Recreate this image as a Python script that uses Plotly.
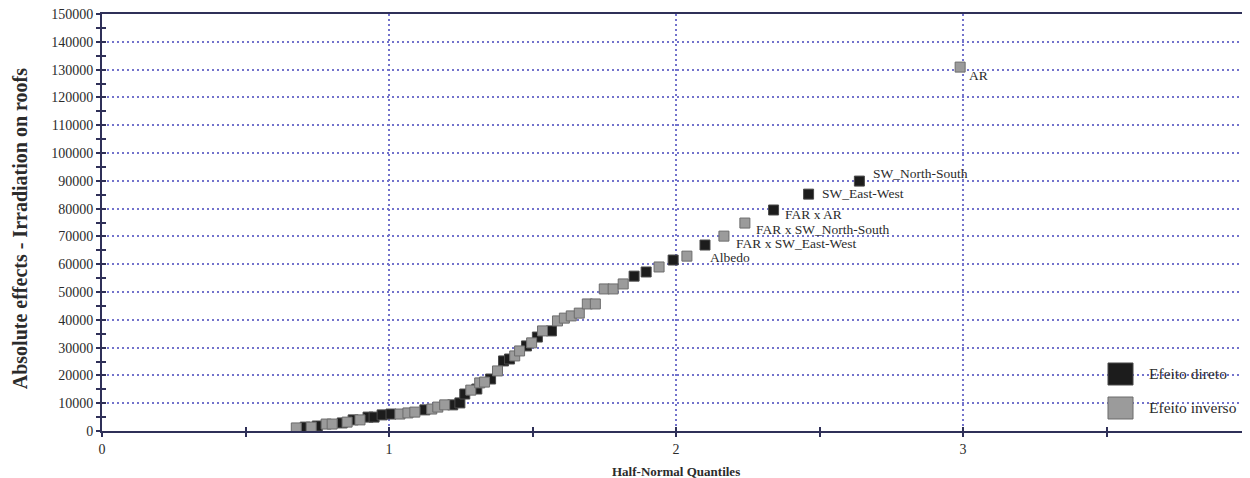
import plotly.graph_objects as go

# ---------------- data ----------------
direct_x = [0.708, 0.750, 0.837, 0.875, 0.927, 0.948, 0.976, 1.007, 1.125, 1.222,
            1.247, 1.264, 1.306, 1.354, 1.399, 1.420, 1.479, 1.517, 1.566, 1.854,
            1.896, 1.990, 2.101, 2.340, 2.462, 2.639]
direct_y = [1400, 1800, 2900, 4000, 5000, 5000, 5800, 6100, 7600, 9400,
            10100, 13300, 15100, 18700, 25200, 25900, 30600, 33800, 36000, 55700,
            57200, 61500, 66900, 79500, 85200, 89900]

inverse_x = [0.677, 0.729, 0.781, 0.802, 0.854, 0.899, 1.038, 1.066, 1.090, 1.149,
             1.170, 1.194, 1.285, 1.316, 1.333, 1.378, 1.438, 1.455, 1.497, 1.535,
             1.587, 1.611, 1.635, 1.663, 1.691, 1.719, 1.750, 1.781, 1.816, 1.941,
             2.038, 2.167, 2.240, 2.990]
inverse_y = [1100, 1400, 2500, 2500, 3200, 4000, 6100, 6500, 6800, 7900,
             8600, 9400, 14700, 17300, 17600, 21600, 27000, 28800, 31700, 36000,
             39600, 40600, 41400, 42400, 45700, 45700, 51100, 51100, 52900, 59000,
             62900, 70100, 74800, 130900]

label_names = ["AR", "SW_North-South", "SW_East-West", "FAR x AR",
               "FAR x SW_North-South", "FAR x SW_East-West", "Albedo"]
label_x = [2.990, 2.639, 2.462, 2.340, 2.240, 2.167, 2.038]
label_y = [130900, 89900, 85200, 79500, 74800, 70100, 62900]

x_tick_vals = [0, 1, 2, 3, 4]
x_tick_text = ["0", "1", "2", "3", "4"]
y_tick_vals = [0, 10000, 20000, 30000, 40000, 50000, 60000, 70000, 80000,
               90000, 100000, 110000, 120000, 130000, 140000, 150000]
y_tick_text = ["0", "10000", "20000", "30000", "40000", "50000", "60000", "70000",
               "80000", "90000", "100000", "110000", "120000", "130000", "140000", "150000"]

legend_names = ["Efeito direto", "Efeito inverso"]
x_title = "Half-Normal Quantiles"
y_title = "Absolute effects - Irradiation on roofs"

# ---------------- styles ----------------
FONT = "Liberation Serif, Times New Roman, serif"
TXT = "#2b2b2b"
AX = "#2f3058"
GRID = "#7373cc"
BLACK_FILL, BLACK_EDGE = "#1c1c1c", "#4a4a4a"
GRAY_FILL, GRAY_EDGE = "#9b9b9b", "#6c6c6c"
label_shift = [(7, -8), (12, 8), (11, 1), (9, -5), (9, -6), (10, -7), (21, -1)]

fig = go.Figure()
fig.add_trace(go.Scatter(
    x=direct_x, y=direct_y, mode="markers", name=legend_names[0], showlegend=False,
    marker=dict(symbol="square", size=10, color=BLACK_FILL,
                line=dict(color=BLACK_EDGE, width=1))))
fig.add_trace(go.Scatter(
    x=inverse_x, y=inverse_y, mode="markers", name=legend_names[1], showlegend=False,
    marker=dict(symbol="square", size=10, color=GRAY_FILL,
                line=dict(color=GRAY_EDGE, width=1))))
# helper trace on overlay axes (inside half of the crossing ticks)
fig.add_trace(go.Scatter(x=[None], y=[None], xaxis="x2", yaxis="y2",
                         showlegend=False, hoverinfo="skip"))

for name, lx, ly, (dx, dy) in zip(label_names, label_x, label_y, label_shift):
    fig.add_annotation(x=lx, y=ly, text=name, showarrow=False, xanchor="left",
                       yanchor="middle", xshift=dx, yshift=dy,
                       font=dict(family=FONT, size=13.5, color=TXT))

tickfont = dict(family=FONT, size=14, color=TXT)
# the page body adds an 8px offset, so the figure is 8px smaller on each side
fig.update_layout(
    width=1242, height=470,
    margin=dict(l=94, r=0, t=6, b=47, autoexpand=False),
    paper_bgcolor="white", plot_bgcolor="white",
    showlegend=False,
    xaxis=dict(range=[0, 4], tickvals=x_tick_vals, ticktext=x_tick_text,
               showline=True, linecolor=AX, linewidth=2, mirror=True,
               ticks="outside", ticklen=4, tickwidth=1.5, tickcolor=AX,
               showgrid=True, gridcolor=GRID, gridwidth=1.5, griddash="2px,3px",
               zeroline=False, tickfont=tickfont, fixedrange=True, automargin=False,
               ticklabeloverflow="allow",
               minor=dict(dtick=0.5, tick0=0, ticks="outside", ticklen=4,
                          tickwidth=1.5, tickcolor=AX, showgrid=False)),
    yaxis=dict(range=[0, 150000], tickvals=y_tick_vals, ticktext=y_tick_text,
               showline=True, linecolor=AX, linewidth=2,
               ticks="outside", ticklen=4, tickwidth=1.5, tickcolor=AX,
               showgrid=True, gridcolor=GRID, gridwidth=1.5, griddash="2px,3px",
               zeroline=False, tickfont=tickfont, fixedrange=True, automargin=False,
               ticklabeloverflow="allow",
               minor=dict(dtick=5000, tick0=0, ticks="outside", ticklen=4,
                          tickwidth=1.5, tickcolor=AX, showgrid=False)),
    xaxis2=dict(range=[0, 4], overlaying="x", anchor="y2", side="bottom",
                tickvals=x_tick_vals, showticklabels=False, showgrid=False,
                showline=False, zeroline=False, ticks="inside", ticklen=4,
                tickwidth=1.5, tickcolor=AX, fixedrange=True, automargin=False,
                minor=dict(dtick=0.5, tick0=0, ticks="inside", ticklen=4,
                           tickwidth=1.5, tickcolor=AX, showgrid=False)),
    yaxis2=dict(range=[0, 150000], overlaying="y", anchor="x2", side="left",
                tickvals=y_tick_vals, showticklabels=False, showgrid=False,
                showline=False, zeroline=False, ticks="inside", ticklen=4,
                tickwidth=1.5, tickcolor=AX, fixedrange=True, automargin=False,
                minor=dict(dtick=5000, tick0=0, ticks="inside", ticklen=4,
                           tickwidth=1.5, tickcolor=AX, showgrid=False)),
)

# axis titles
fig.add_annotation(xref="paper", yref="paper", x=0.5, y=-0.096, text="<b>%s</b>" % x_title,
                   showarrow=False, xanchor="center", yanchor="middle",
                   font=dict(family=FONT, size=13, color=TXT))
fig.add_annotation(xref="paper", yref="paper", x=-0.0715, y=0.486, text="<b>%s</b>" % y_title,
                   showarrow=False, xanchor="center", yanchor="middle", textangle=-90,
                   font=dict(family=FONT, size=20, color=TXT))

# legend (boxes + text) in the lower-right corner
legend_fill = [(BLACK_FILL, BLACK_EDGE), (GRAY_FILL, GRAY_EDGE)]
legend_box_y = [(0.1103, 0.1631), (0.0288, 0.0815)]
legend_text_y = [0.139, 0.0552]
for name, (fc, ec), (y0, y1), ty in zip(legend_names, legend_fill, legend_box_y, legend_text_y):
    fig.add_shape(type="rect", xref="paper", yref="paper", x0=0.8763, x1=0.8981,
                  y0=y0, y1=y1, fillcolor=fc, line=dict(color=ec, width=1))
    fig.add_annotation(xref="paper", yref="paper", x=0.9105, y=ty, text=name,
                       showarrow=False, xanchor="left", yanchor="middle",
                       font=dict(family=FONT, size=15.5, color=TXT))

fig.write_html("out.html")
